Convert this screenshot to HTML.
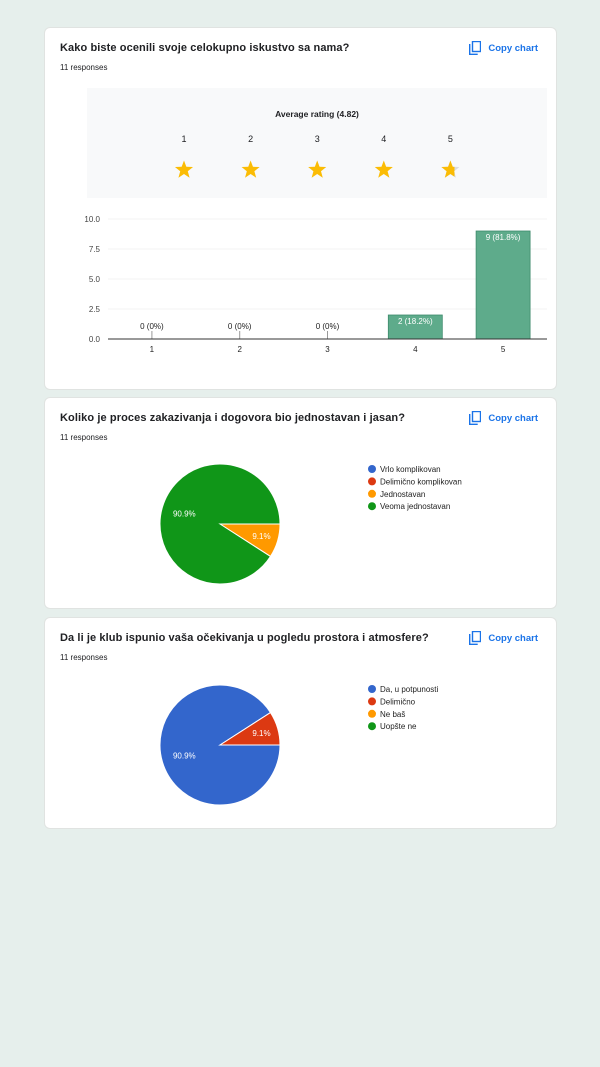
<!DOCTYPE html>
<html><head><meta charset="utf-8"><style>
body{margin:0;width:600px;height:1067px;background:#e6efec;font-family:"Liberation Sans",Arial,sans-serif;position:relative;overflow:hidden}
.card{position:absolute;left:44px;width:511px;background:#fff;border:1px solid #e0e3e1;border-radius:6px}
.t{position:absolute;left:15px;top:14px;font-size:11px;font-weight:bold;color:#202124;letter-spacing:0.1px}
.r{position:absolute;left:15px;top:35px;font-size:8px;color:#202124}
.cp{position:absolute;right:18px;top:13px;font-size:9.5px;color:#1a73e8;font-weight:bold;display:flex;align-items:center;gap:7px}
svg text{font-family:"Liberation Sans",Arial,sans-serif}
</style></head><body>
<div class="card" style="top:27px;height:361px">
<div class="t">Kako biste ocenili svoje celokupno iskustvo sa nama?</div>
<div class="r">11 responses</div>
<div class="cp"><svg width="12" height="14"><rect x="3.5" y="0.5" width="8" height="10" fill="none" stroke="#1a73e8" stroke-width="1.4"/><path d="M0.7 3v10.3h8" fill="none" stroke="#1a73e8" stroke-width="1.4"/></svg>Copy chart</div>
</div>
<div class="card" style="top:397px;height:210px">
<div class="t">Koliko je proces zakazivanja i dogovora bio jednostavan i jasan?</div>
<div class="r">11 responses</div>
<div class="cp"><svg width="12" height="14"><rect x="3.5" y="0.5" width="8" height="10" fill="none" stroke="#1a73e8" stroke-width="1.4"/><path d="M0.7 3v10.3h8" fill="none" stroke="#1a73e8" stroke-width="1.4"/></svg>Copy chart</div>
</div>
<div class="card" style="top:617px;height:210px">
<div class="t">Da li je klub ispunio vaša očekivanja u pogledu prostora i atmosfere?</div>
<div class="r">11 responses</div>
<div class="cp"><svg width="12" height="14"><rect x="3.5" y="0.5" width="8" height="10" fill="none" stroke="#1a73e8" stroke-width="1.4"/><path d="M0.7 3v10.3h8" fill="none" stroke="#1a73e8" stroke-width="1.4"/></svg>Copy chart</div>
</div>
<svg id="s" width="600" height="1067" style="position:absolute;left:0;top:0"></svg>
<script>
const ratingLabels=["1","2","3","4","5"];
const ratingCounts=[0,0,0,2,9];
const ratingPct=["0%","0%","0%","18.2%","81.8%"];
const yTicks=[0,2.5,5,7.5,10];
const avgRating=4.82;
const pie1Labels=["Vrlo komplikovan","Delimično komplikovan","Jednostavan","Veoma jednostavan"];
const pie1Values=[0,0,1,10];
const pie2Labels=["Da, u potpunosti","Delimično","Ne baš","Uopšte ne"];
const pie2Values=[10,1,0,0];
const colors=["#3366cc","#dc3912","#ff9900","#109618"];
const S=document.getElementById('s'),NS="http://www.w3.org/2000/svg";
function el(t,a,txt){const e=document.createElementNS(NS,t);for(const k in a)e.setAttribute(k,a[k]);if(txt!=null)e.textContent=txt;S.appendChild(e);return e;}
let e=el('rect',{x:87,y:88,width:460,height:110,fill:'#f8f9fa'});


e=el('text',{x:317,y:117,'font-size':8.5,'font-weight':'bold','text-anchor':'middle',fill:'#202124'},'Average rating ('+avgRating.toFixed(2)+')');


function starPath(cx,cy,R){let p='';for(let i=0;i<10;i++){const r=i%2?R*0.42:R;const a=-Math.PI/2+i*Math.PI/5;p+=(i?'L':'M')+(cx+r*Math.cos(a)).toFixed(2)+' '+(cy+r*Math.sin(a)).toFixed(2);}return p+'Z';}
const defs=el('defs',{});
ratingLabels.forEach((l,i)=>{const cx=184+i*66.6;
 e=el('text',{x:cx,y:142,'font-size':9,'text-anchor':'middle',fill:'#202124'},l);
 
 
 const fill=Math.max(0,Math.min(1,avgRating-i));
 if(fill<1){el('path',{d:starPath(cx,170,9.5),fill:'#dadce0'});
  const cid='c'+i;const cp=document.createElementNS(NS,'clipPath');cp.setAttribute('id',cid);const rr=document.createElementNS(NS,'rect');rr.setAttribute('x',cx-9.5);rr.setAttribute('y',160);rr.setAttribute('width',19*fill-2);rr.setAttribute('height',20);cp.appendChild(rr);defs.appendChild(cp);
  e=el('path',{d:starPath(cx,170,9.5),fill:'#fbbc04','clip-path':'url(#'+cid+')'});}
 else e=el('path',{d:starPath(cx,170,9.5),fill:'#fbbc04'});
 
 
});
const X0=108,X1=547,Y0=339,Y1=219,yMax=10;
const yS=v=>Y0-(v/yMax)*(Y0-Y1);
const step=(X1-X0)/ratingLabels.length;
const xC=i=>X0+step*(i+0.5);
yTicks.forEach(t=>{if(t>0)el('line',{x1:X0,x2:X1,y1:yS(t),y2:yS(t),stroke:'#f3f3f3'});
 e=el('text',{x:100,y:yS(t)+3,'font-size':8,'text-anchor':'end',fill:'#444'},t.toFixed(1));
 
 });
ratingLabels.forEach((l,i)=>{const cx=xC(i),bw=54;
 if(ratingCounts[i]>0){e=el('rect',{x:cx-bw/2,y:yS(ratingCounts[i]),width:bw,height:Y0-yS(ratingCounts[i]),fill:'#5eab8b',stroke:'#3d8a6b','stroke-width':0.8});
  
  
  e=el('text',{x:cx,y:yS(ratingCounts[i])+9,'font-size':8,'text-anchor':'middle',fill:'#fff'},ratingCounts[i]+' ('+ratingPct[i]+')');}
 else{el('line',{x1:cx,x2:cx,y1:Y0-8,y2:Y0,stroke:'#999'});
  e=el('text',{x:cx,y:Y0-10,'font-size':8,'text-anchor':'middle',fill:'#222'},ratingCounts[i]+' ('+ratingPct[i]+')');}
 
 
 e=el('text',{x:cx,y:352,'font-size':8,'text-anchor':'middle',fill:'#222'},l);
 
 });
el('line',{x1:X0,x2:X1,y1:Y0,y2:Y0,stroke:'#333'});
function pie(cx,cy,R,vals,labels,ly,name){const tot=vals.reduce((a,b)=>a+b,0);let a=0;
 vals.forEach((v,i)=>{if(!v)return;const a2=a+v/tot*2*Math.PI;
  const p=(t)=>[cx+R*Math.cos(t),cy+R*Math.sin(t)];const[x1,y1]=p(a),[x2,y2]=p(a2);
  e=el('path',{d:`M${cx} ${cy}L${x1} ${y1}A${R} ${R} 0 ${a2-a>Math.PI?1:0} 1 ${x2} ${y2}Z`,fill:colors[i],stroke:'#fff','stroke-width':1});
  
  
  const m=(a+a2)/2,lr=(v/tot>0.5)?R*0.62:R*0.72;
  e=el('text',{x:cx+lr*Math.cos(m),y:cy+lr*Math.sin(m)+3,'font-size':8,'text-anchor':'middle',fill:'#fff'},(v/tot*100).toFixed(1)+'%');
  
  
  a=a2;});
 labels.forEach((l,i)=>{el('circle',{cx:372,cy:ly+i*12.4,r:4,fill:colors[i]});
  e=el('text',{x:380,y:ly+i*12.4+3,'font-size':8,fill:'#222'},l);
  
  });}
pie(220,524,60,pie1Values,pie1Labels,469,'process-pie');
pie(220,745,60,pie2Values,pie2Labels,689,'expectations-pie');
</script>
</body></html>
